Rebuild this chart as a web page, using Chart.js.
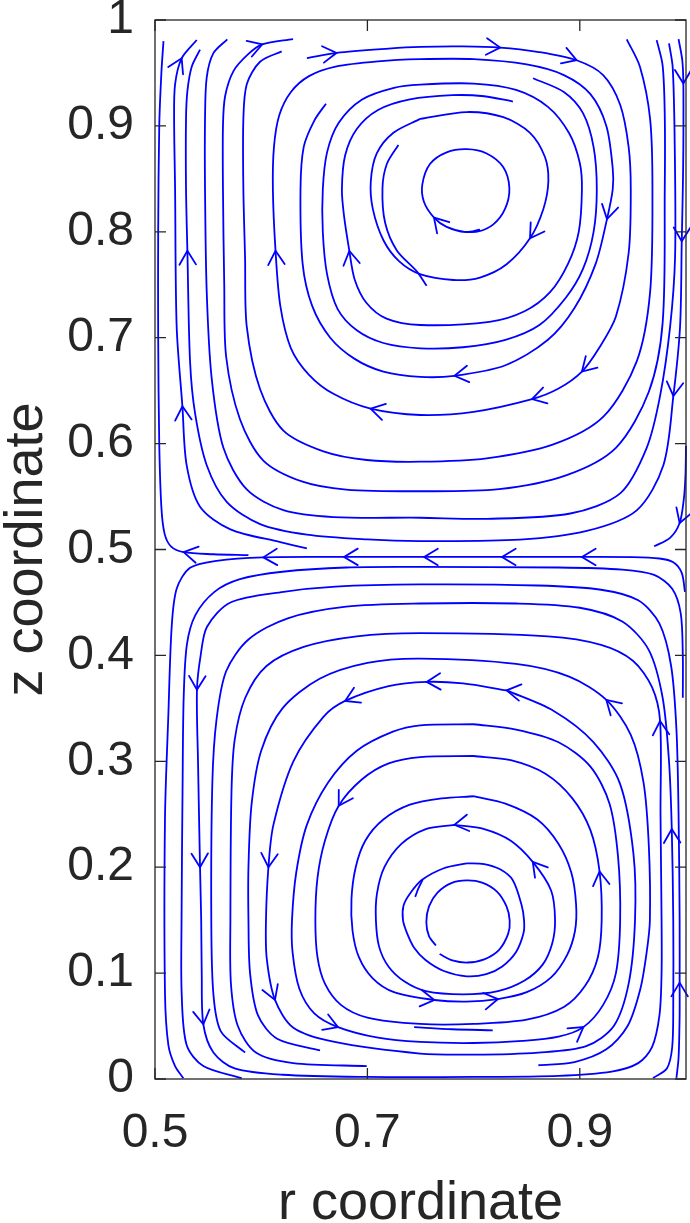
<!DOCTYPE html>
<html>
<head>
<meta charset="utf-8">
<title>Streamlines</title>
<script src="https://cdn.jsdelivr.net/npm/chart.js@4.4.1/dist/chart.umd.min.js"></script>
<style>
  html, body { margin: 0; padding: 0; background: #fff; }
  #wrap { width: 690px; height: 1223px; }
</style>
</head>
<body>
<div id="wrap"><canvas id="flowChart" width="690" height="1223"></canvas></div>
<script>
// axis ticks
var xTicks = [0.5, 0.7, 0.9];
var xTickLabels = ['0.5', '0.7', '0.9'];
var yTicks = [0, 0.1, 0.2, 0.3, 0.4, 0.5, 0.6, 0.7, 0.8, 0.9, 1];
var yTickLabels = ['0', '0.1', '0.2', '0.3', '0.4', '0.5', '0.6', '0.7', '0.8', '0.9', '1'];

// ---- upper cell, points [r, z] in flow order ----
var upperWall = [[0.588,0.4946],[0.555,0.4955],[0.527,0.4975],[0.515,0.503],[0.509,0.515],[0.506,0.54],[0.504,0.60],[0.503,0.70],[0.503,0.80],[0.504,0.90],[0.506,0.95],[0.508,0.980]];
var upperB = [[0.643,0.501],[0.618,0.507],[0.571,0.519],[0.5424,0.5404],[0.5298,0.5796],[0.5258,0.6352],[0.5204,0.7104],[0.5189,0.8412],[0.518,0.907],[0.5189,0.9393],[0.5251,0.9638],[0.5393,0.9811]];
var upperC = [[0.993,0.982],[0.9965,0.962],[0.9975,0.940],[0.9975,0.88],[0.997,0.84],[0.996,0.791],[0.9944,0.7104],[0.9881,0.645],[0.9787,0.5796],[0.9536,0.537],[0.9065,0.5175],[0.8437,0.5093],[0.7497,0.508],[0.700,0.5095],[0.643,0.514],[0.599,0.524],[0.5675,0.545],[0.5487,0.5796],[0.5377,0.6287],[0.533,0.6777],[0.5305,0.782],[0.5292,0.8412],[0.5292,0.9066],[0.5305,0.9328],[0.5345,0.9557],[0.5424,0.972]];
var upperD = [[0.984,0.978],[0.9875,0.955],[0.9894,0.8808],[0.9897,0.7758],[0.985,0.71],[0.9756,0.645],[0.963,0.596],[0.938,0.553],[0.891,0.534],[0.8123,0.529],[0.7497,0.530],[0.668,0.5306],[0.6209,0.5371],[0.5864,0.5567],[0.5644,0.596],[0.5534,0.6613],[0.5487,0.7431],[0.5471,0.8412],[0.5471,0.9066],[0.5487,0.9458],[0.555,0.9687],[0.5681,0.9818]];
var upperE = [[0.9724,0.981],[0.978,0.957],[0.980,0.91],[0.980,0.84],[0.978,0.714],[0.965,0.649],[0.934,0.596],[0.887,0.570],[0.824,0.557],[0.7497,0.555],[0.680,0.5566],[0.639,0.564],[0.602,0.584],[0.580,0.623],[0.567,0.682],[0.5652,0.75],[0.564,0.84],[0.564,0.90],[0.566,0.928],[0.574,0.952],[0.588,0.968],[0.601,0.977],[0.630,0.982]];
var upperF = [[0.9442,0.9818],[0.9567,0.9557],[0.9662,0.9066],[0.9684,0.8412],[0.9662,0.7431],[0.9536,0.6777],[0.9222,0.6254],[0.8751,0.5992],[0.8123,0.5861],[0.7497,0.5829],[0.6994,0.5845],[0.6586,0.5927],[0.6209,0.6123],[0.5989,0.6515],[0.5864,0.7104],[0.5848,0.7758],[0.5832,0.8412],[0.5832,0.9066],[0.5864,0.9393],[0.5989,0.9606],[0.6193,0.9704]];
var upperSpiralA = [[0.643,0.964],[0.671,0.969],[0.72,0.973],[0.7497,0.9746],[0.79,0.975],[0.825,0.974],[0.86,0.970],[0.897,0.962],[0.922,0.948],[0.938,0.92],[0.946,0.88],[0.948,0.84],[0.946,0.78],[0.934,0.72],[0.918,0.69],[0.902,0.668],[0.88,0.652],[0.855,0.642],[0.80,0.630],[0.7497,0.627],[0.703,0.633],[0.668,0.647],[0.645,0.665],[0.628,0.69],[0.618,0.73],[0.6135,0.782],[0.611,0.84],[0.612,0.88],[0.617,0.91],[0.628,0.932],[0.645,0.947],[0.67,0.956],[0.71,0.961],[0.7497,0.963],[0.80,0.963],[0.85,0.958],[0.885,0.948],[0.91,0.93],[0.925,0.90],[0.931,0.86],[0.931,0.84],[0.9256,0.812],[0.915,0.77],[0.895,0.728],[0.87,0.698],[0.83,0.674],[0.782,0.664],[0.7497,0.663],[0.715,0.668],[0.688,0.68],[0.665,0.70],[0.648,0.73],[0.639,0.77],[0.637,0.84],[0.640,0.88],[0.650,0.905],[0.661,0.921]];
var upperSpiralB = [[0.856,0.945],[0.885,0.932],[0.903,0.912],[0.913,0.88],[0.916,0.84],[0.913,0.80],[0.903,0.765],[0.887,0.738],[0.862,0.712],[0.83,0.698],[0.79,0.691],[0.7497,0.690],[0.715,0.695],[0.69,0.707],[0.672,0.727],[0.662,0.76],[0.658,0.80],[0.658,0.84],[0.662,0.875],[0.673,0.903],[0.695,0.925],[0.725,0.936],[0.7497,0.939],[0.80,0.940],[0.84,0.934],[0.87,0.918],[0.89,0.893],[0.90,0.865],[0.902,0.84],[0.899,0.80],[0.889,0.77],[0.872,0.743],[0.848,0.725],[0.815,0.715],[0.7497,0.712],[0.718,0.718],[0.699,0.733],[0.688,0.755],[0.683,0.782],[0.678,0.815],[0.676,0.84],[0.679,0.872],[0.69,0.897],[0.71,0.915],[0.74,0.925],[0.78,0.929],[0.81,0.928],[0.837,0.923]];
var upperRing = [[0.7497,0.9066],[0.7935,0.9131],[0.828,0.9082],[0.8531,0.8935],[0.8672,0.8706],[0.8704,0.8477],[0.8657,0.8216],[0.8531,0.7938],[0.8311,0.7693],[0.806,0.7568],[0.7809,0.7545],[0.7495,0.760],[0.730,0.772],[0.7151,0.792],[0.7051,0.8216],[0.7032,0.8477],[0.7088,0.874],[0.7245,0.8935],[0.7497,0.9066]];
var upperArc = [[0.7558,0.749],[0.7465,0.7627],[0.7277,0.7824],[0.7167,0.8085],[0.7142,0.8412],[0.7183,0.864],[0.7292,0.882]];
var upperCore = [[0.806,0.802],[0.7925,0.7997],[0.7746,0.8046],[0.7627,0.8134],[0.7533,0.8281],[0.7517,0.8445],[0.7589,0.864],[0.7746,0.875],[0.7935,0.878],[0.8123,0.874],[0.828,0.861],[0.8337,0.8412],[0.8296,0.8216],[0.8186,0.807],[0.8045,0.8003],[0.790,0.800]];
var upperCorner = [[1.0,0.598],[0.9995,0.57],[0.998,0.548],[0.994,0.525],[0.985,0.511],[0.970,0.503]];

// ---- dividing line ----
var separatrix = [[0.999,0.46],[0.996,0.478],[0.988,0.488],[0.975,0.4915],[0.95,0.4928],[0.902,0.493],[0.8267,0.493],[0.7534,0.493],[0.678,0.493],[0.602,0.4926],[0.558,0.4893],[0.533,0.4827],[0.5204,0.463],[0.5157,0.4268],[0.5126,0.3445],[0.5094,0.2458],[0.5094,0.0813],[0.5126,0.032],[0.5189,0.0122],[0.5267,0.0007]];

// ---- lower cell ----
var lowerX = [[0.997,0.36],[0.997,0.40],[0.995,0.44],[0.987,0.463],[0.97,0.476],[0.94,0.481],[0.88,0.483],[0.7497,0.4835],[0.68,0.483],[0.62,0.479],[0.58,0.472],[0.556,0.460],[0.538,0.438],[0.530,0.41],[0.527,0.36],[0.526,0.28],[0.525,0.15],[0.5251,0.0813],[0.5298,0.032],[0.5455,0.0122],[0.5817,0.0007]];
var lowerY = [[0.991,0.001],[0.993,0.02],[0.994,0.06],[0.994,0.091],[0.994,0.15],[0.993,0.25],[0.991,0.33],[0.986,0.39],[0.975,0.43],[0.955,0.452],[0.92,0.462],[0.86,0.466],[0.7497,0.467],[0.67,0.465],[0.621,0.46],[0.571,0.45],[0.549,0.427],[0.543,0.40],[0.5395,0.3675],[0.5405,0.30],[0.5424,0.2],[0.5435,0.15],[0.544,0.10],[0.5455,0.0517],[0.555,0.025],[0.575,0.01],[0.62,0.004],[0.70,0.002],[0.80,0.002],[0.88,0.003],[0.93,0.007],[0.955,0.015],[0.968,0.03],[0.975,0.06],[0.977,0.10],[0.977,0.15],[0.976,0.25],[0.9756,0.338],[0.968,0.37],[0.95,0.395],[0.92,0.41],[0.87,0.418],[0.7497,0.421],[0.69,0.418],[0.64,0.408],[0.605,0.39],[0.585,0.36],[0.575,0.32],[0.572,0.27],[0.571,0.15],[0.5715,0.09],[0.578,0.05],[0.595,0.025],[0.63,0.015],[0.6994,0.0122]];
var lowerZ = [[0.969,0.001],[0.982,0.01],[0.987,0.03],[0.988,0.07],[0.988,0.15],[0.9866,0.236],[0.984,0.30],[0.978,0.36],[0.965,0.405],[0.94,0.432],[0.90,0.445],[0.84,0.449],[0.7497,0.449],[0.68,0.446],[0.625,0.435],[0.588,0.415],[0.567,0.385],[0.558,0.34],[0.554,0.28],[0.553,0.15],[0.555,0.08],[0.562,0.045],[0.5848,0.025]];
var lowerW = [[0.861,0.013],[0.895,0.016],[0.925,0.028],[0.945,0.05],[0.957,0.085],[0.963,0.12],[0.966,0.15],[0.965,0.22],[0.96,0.28],[0.948,0.325],[0.925,0.358],[0.89,0.38],[0.84,0.392],[0.7497,0.397],[0.70,0.393],[0.655,0.378],[0.62,0.35],[0.60,0.31],[0.591,0.26],[0.588,0.20],[0.588,0.15],[0.5895,0.10],[0.597,0.06],[0.615,0.038],[0.6554,0.027]];
var lowerLoop1 = [[0.8311,0.367],[0.79,0.3735],[0.7558,0.375],[0.72,0.371],[0.679,0.357],[0.6586,0.342],[0.6303,0.3],[0.6115,0.24],[0.6068,0.2],[0.6045,0.15],[0.6052,0.114],[0.613,0.0747],[0.6303,0.0484],[0.668,0.0352],[0.7497,0.024],[0.80,0.023],[0.861,0.025],[0.906,0.031],[0.932,0.05],[0.946,0.09],[0.952,0.15],[0.9505,0.2129],[0.9379,0.2787],[0.9128,0.3182],[0.8751,0.3478],[0.8311,0.367]];
var lowerLoop2 = [[0.80,0.335],[0.7497,0.334],[0.724,0.328],[0.69,0.31],[0.663,0.28],[0.643,0.24],[0.633,0.195],[0.629,0.15],[0.6295,0.12],[0.636,0.085],[0.650,0.062],[0.6723,0.049],[0.71,0.039],[0.7497,0.035],[0.80,0.034],[0.846,0.036],[0.88,0.040],[0.9034,0.049],[0.922,0.07],[0.934,0.10],[0.938,0.15],[0.936,0.21],[0.928,0.26],[0.910,0.295],[0.88,0.318],[0.84,0.330],[0.80,0.335]];
var lowerLoop3 = [[0.80,0.305],[0.7497,0.304],[0.72,0.298],[0.695,0.283],[0.673,0.258],[0.66,0.225],[0.653,0.19],[0.651,0.15],[0.653,0.115],[0.66,0.09],[0.675,0.07],[0.70,0.058],[0.7497,0.052],[0.80,0.052],[0.85,0.056],[0.885,0.068],[0.905,0.088],[0.917,0.115],[0.9206,0.15],[0.9186,0.196],[0.91,0.235],[0.893,0.265],[0.868,0.288],[0.835,0.301],[0.80,0.305]];
var lowerLoop4 = [[0.80,0.267],[0.77,0.265],[0.74,0.259],[0.715,0.245],[0.698,0.225],[0.689,0.20],[0.685,0.17],[0.686,0.14],[0.692,0.115],[0.705,0.095],[0.725,0.082],[0.763,0.0746],[0.793,0.073],[0.823,0.0755],[0.85,0.082],[0.873,0.096],[0.888,0.117],[0.8955,0.14],[0.8965,0.165],[0.892,0.195],[0.88,0.222],[0.86,0.245],[0.83,0.26],[0.80,0.267]];
var lowerLoop5 = [[0.782,0.240],[0.755,0.236],[0.732,0.222],[0.716,0.20],[0.709,0.175],[0.708,0.15],[0.711,0.125],[0.72,0.106],[0.735,0.092],[0.755,0.083],[0.79,0.080],[0.823,0.083],[0.848,0.093],[0.865,0.108],[0.874,0.128],[0.8767,0.15],[0.873,0.178],[0.8557,0.205],[0.835,0.225],[0.81,0.236],[0.782,0.240]];
var lowerRing = [[0.7935,0.2037],[0.772,0.199],[0.7512,0.1879],[0.740,0.175],[0.734,0.1637],[0.7335,0.150],[0.7373,0.1378],[0.744,0.124],[0.7547,0.1124],[0.772,0.102],[0.7935,0.097],[0.812,0.099],[0.8266,0.106],[0.840,0.120],[0.847,0.1378],[0.8475,0.150],[0.845,0.165],[0.8368,0.1879],[0.825,0.198],[0.810,0.203],[0.7935,0.2037]];
var lowerCore = [[0.768,0.118],[0.78,0.112],[0.7945,0.110],[0.81,0.113],[0.824,0.122],[0.8325,0.137],[0.834,0.1495],[0.831,0.163],[0.822,0.177],[0.808,0.1855],[0.7935,0.1875],[0.779,0.185],[0.766,0.176],[0.758,0.163],[0.7555,0.148],[0.758,0.135],[0.7645,0.126]];
var lowerArc = [[0.752,0.188],[0.748,0.18],[0.745,0.172]];
var lowerShort = [[0.744,0.049],[0.78,0.047],[0.818,0.046]];

// which points carry an arrow head
var streamlines = [
    {pts: upperWall, arrows: [2]},
    {pts: upperB, arrows: [5, 10]},
    {pts: upperC, arrows: [2, 5, 7, 20]},
    {pts: upperD, arrows: []},
    {pts: upperE, arrows: [21]},
    {pts: upperF, arrows: []},
    {pts: upperSpiralA, arrows: [1, 5, 7, 15, 17, 20, 25, 41, 46]},
    {pts: upperSpiralB, arrows: [38]},
    {pts: upperRing, arrows: [7]},
    {pts: upperArc, arrows: []},
    {pts: upperCore, arrows: [3]},
    {pts: upperCorner, arrows: [3]},
    {pts: separatrix, arrows: [5, 6, 7, 8, 9]},
    {pts: lowerX, arrows: []},
    {pts: lowerY, arrows: [3, 18, 20, 23, 37]},
    {pts: lowerZ, arrows: [5]},
    {pts: lowerW, arrows: [10]},
    {pts: lowerLoop1, arrows: [0, 2, 4, 8, 11]},
    {pts: lowerLoop2, arrows: [11, 17]},
    {pts: lowerLoop3, arrows: [4, 19]},
    {pts: lowerLoop4, arrows: [11, 13]},
    {pts: lowerLoop5, arrows: [0, 17]},
    {pts: lowerRing, arrows: []},
    {pts: lowerCore, arrows: []},
    {pts: lowerArc, arrows: []},
    {pts: lowerShort, arrows: []}
];

var lineColor = 'rgb(0, 0, 255)';
var axisColor = '#262626';
var fontFamily = '"Liberation Sans", Arial, Helvetica, sans-serif';

var datasets = streamlines.map(function (s) {
    return {
        data: s.pts.map(function (p) { return {x: p[0], y: p[1]}; }),
        showLine: true,
        borderColor: lineColor,
        borderWidth: 1.8,
        pointRadius: 0,
        pointHoverRadius: 0,
        tension: 0.3,
        fill: false,
        clip: 3
    };
});

// open V heads, pointing along the flow
var arrowPlugin = {
    id: 'arrowHeads',
    afterDatasetsDraw: function (chart) {
        var ctx = chart.ctx, xs = chart.scales.x, ys = chart.scales.y;
        var len = 16, half = 31 * Math.PI / 180;
        ctx.save();
        ctx.strokeStyle = lineColor;
        ctx.lineWidth = 1.8;
        ctx.lineCap = 'round';
        streamlines.forEach(function (s) {
            s.arrows.forEach(function (i) {
                var p = s.pts;
                var a = p[Math.max(i - 1, 0)], b = p[Math.min(i + 1, p.length - 1)];
                var tx = xs.getPixelForValue(p[i][0]), ty = ys.getPixelForValue(p[i][1]);
                var ang = Math.atan2(ys.getPixelForValue(b[1]) - ys.getPixelForValue(a[1]),
                                     xs.getPixelForValue(b[0]) - xs.getPixelForValue(a[0]));
                ctx.beginPath();
                ctx.moveTo(tx - len * Math.cos(ang - half), ty - len * Math.sin(ang - half));
                ctx.lineTo(tx, ty);
                ctx.lineTo(tx - len * Math.cos(ang + half), ty - len * Math.sin(ang + half));
                ctx.stroke();
            });
        });
        ctx.restore();
    }
};

// box with inward ticks on all four sides
var framePlugin = {
    id: 'frame',
    afterDraw: function (chart) {
        var a = chart.chartArea, ctx = chart.ctx, xs = chart.scales.x, ys = chart.scales.y;
        var tl = 11;
        ctx.save();
        ctx.strokeStyle = axisColor;
        ctx.lineWidth = 1.3;
        ctx.strokeRect(a.left, a.top, a.right - a.left, a.bottom - a.top);
        ctx.beginPath();
        xTicks.forEach(function (v) {
            var px = xs.getPixelForValue(v);
            ctx.moveTo(px, a.bottom); ctx.lineTo(px, a.bottom - tl);
            ctx.moveTo(px, a.top); ctx.lineTo(px, a.top + tl);
        });
        yTicks.forEach(function (v) {
            var py = ys.getPixelForValue(v);
            ctx.moveTo(a.left, py); ctx.lineTo(a.left + tl, py);
            ctx.moveTo(a.right, py); ctx.lineTo(a.right - tl, py);
        });
        ctx.stroke();
        ctx.restore();
    }
};

new Chart(document.getElementById('flowChart'), {
    type: 'scatter',
    data: {datasets: datasets},
    options: {
        responsive: false,
        animation: false,
        devicePixelRatio: 1,
        layout: {padding: {top: 0, right: 4, bottom: 0, left: 0}},
        plugins: {legend: {display: false}, tooltip: {enabled: false}},
        events: [],
        scales: {
            x: {
                type: 'linear', min: 0.5, max: 1,
                grid: {display: false, drawTicks: false},
                border: {display: false},
                afterBuildTicks: function (s) { s.ticks = xTicks.map(function (v) { return {value: v}; }); },
                afterFit: function (s) { s.height = 144; },
                ticks: {
                    padding: 35, color: axisColor, autoSkip: false, maxRotation: 0,
                    font: {family: fontFamily, size: 48, lineHeight: 0.8333},
                    callback: function (v, i) { return xTickLabels[i]; }
                },
                title: {
                    display: true, text: 'r coordinate', color: axisColor,
                    font: {family: fontFamily, size: 54, lineHeight: 1},
                    padding: {top: 0, bottom: -8}
                }
            },
            y: {
                type: 'linear', min: 0, max: 1,
                grid: {display: false, drawTicks: false},
                border: {display: false},
                afterBuildTicks: function (s) { s.ticks = yTicks.map(function (v) { return {value: v}; }); },
                afterFit: function (s) { s.width = 155; s.paddingTop = 20; s.paddingBottom = 0; },
                ticks: {
                    padding: 21, color: axisColor, autoSkip: false,
                    font: {family: fontFamily, size: 48, lineHeight: 0.8333},
                    callback: function (v, i) { return yTickLabels[i]; }
                },
                title: {
                    display: true, text: 'z coordinate', color: axisColor,
                    font: {family: fontFamily, size: 54, lineHeight: 1},
                    padding: {top: 0, bottom: 0}
                }
            }
        }
    },
    plugins: [arrowPlugin, framePlugin]
});
</script>
</body>
</html>
